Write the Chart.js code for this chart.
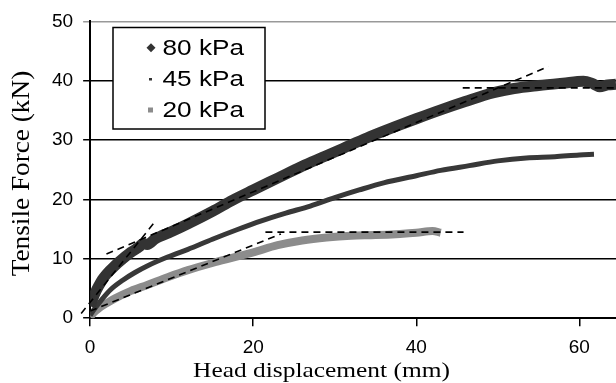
<!DOCTYPE html>
<html>
<head>
<meta charset="utf-8">
<script src="https://cdn.jsdelivr.net/npm/chart.js@4.4.0/dist/chart.umd.min.js"></script>
<style>
  body { margin: 0; background: #fff; }
  #wrap { width: 616px; height: 383px; }
</style>
</head>
<body>
<div id="wrap"><canvas id="chart" width="616" height="383"></canvas></div>
<script>
// --- data (x = head displacement mm, y = tensile force kN) ---
const disp80  = [0, 0.3, 0.7, 1, 1.5, 2, 3, 4, 5, 6, 6.5, 7, 8, 10, 12, 15, 17.5, 20, 23, 26, 28.5, 31, 34, 37.5, 40, 43, 46, 49.5, 52, 55, 58, 60.5, 61.5, 62.5, 63.5, 64.5];
const force80 = [2.0, 3.2, 4.5, 5.3, 6.5, 7.4, 8.8, 10.0, 11.1, 12.0, 12.6, 12.4, 13.4, 14.6, 15.9, 18.0, 19.9, 21.6, 23.6, 25.6, 27.1, 28.6, 30.4, 32.3, 33.6, 35.1, 36.5, 38.0, 38.7, 39.2, 39.6, 39.9, 39.6, 39.0, 39.3, 39.4];

const disp45  = [0, 0.5, 1.4, 2.5, 4, 5.5, 7, 9.5, 12, 15, 18, 21, 24, 27, 30, 33, 36, 40, 43, 46.5, 50, 53.5, 57, 60, 61.8];
const force45 = [0.5, 1.5, 3.1, 4.8, 6.4, 7.7, 8.8, 10.3, 11.6, 13.3, 14.9, 16.4, 17.7, 18.9, 20.3, 21.6, 22.8, 24.0, 24.9, 25.7, 26.5, 27.0, 27.2, 27.5, 27.6];

const disp20  = [0, 0.5, 1, 2, 3, 5, 7, 9.5, 12, 15, 17.5, 20, 23, 26, 29, 32, 35, 38, 40, 42, 43];
const force20 = [0.2, 1.0, 1.6, 2.5, 3.3, 4.6, 5.6, 6.9, 8.1, 9.3, 10.2, 11.1, 12.3, 13.1, 13.6, 13.9, 14.0, 14.2, 14.4, 14.7, 14.4];

// dashed fitting lines: [x0, x1], [y0, y1]
const fit80Init  = { x: [-1.1, 8.1], y: [0.8, 16.5] };
const fit80Main  = { x: [2, 56.2],   y: [10.8, 42.4] };
const fit80Peak  = { x: [45.7, 64.5], y: [38.8, 38.8] };
const fit20Init  = { x: [0, 23.4],   y: [1.2, 14.2] };
const fit20Peak  = { x: [21.5, 45.8], y: [14.5, 14.5] };

const seriesLabels = ['80 kPa', '45 kPa', '20 kPa'];
const yTicks = [0, 10, 20, 30, 40, 50];
const xTicks = [0, 20, 40, 60];

const pts = (xs, ys) => xs.map((x, i) => ({ x, y: ys[i] }));

function dashed(f, clip) {
    return {
        data: pts(f.x, f.y),
        borderColor: '#000', borderWidth: 1.6, borderDash: [7, 5],
        pointRadius: 0, fill: false, clip: clip === false ? false : undefined
    };
}

const datasets = [
    dashed(fit80Init, false),
    dashed(fit80Main),
    dashed(fit80Peak),
    dashed(fit20Init),
    dashed(fit20Peak),
    { data: pts(disp80, force80), borderColor: '#333', borderWidth: 11, pointRadius: 0, cubicInterpolationMode: 'monotone', borderJoinStyle: 'round' },
    { data: pts(disp45, force45), borderColor: '#383838', borderWidth: 5, pointRadius: 0, cubicInterpolationMode: 'monotone', borderJoinStyle: 'round' },
    { data: pts(disp20, force20), borderColor: '#8c8c8c', borderWidth: 8, pointRadius: 0, cubicInterpolationMode: 'monotone', borderJoinStyle: 'round' }
];

// legend box + axis titles drawn by hand (stretched text like the original)
const decor = {
    id: 'decor',
    afterDraw(chart) {
        const ctx = chart.ctx;
        ctx.save();

        // legend
        ctx.fillStyle = '#fff';
        ctx.fillRect(113, 27, 152, 102);
        ctx.strokeStyle = '#000';
        ctx.lineWidth = 1.5;
        ctx.strokeRect(113, 27.5, 152, 101.5);

        const rows = [47.7, 79, 110];
        ctx.font = '22px "Liberation Sans", Arial, sans-serif';
        ctx.textBaseline = 'middle';
        ctx.fillStyle = '#000';
        rows.forEach((y, i) => {
            ctx.save();
            ctx.translate(162.5, y + 1);
            ctx.scale(1.19, 1);
            ctx.fillText(seriesLabels[i], 0, 0);
            ctx.restore();
        });
        // markers
        ctx.fillStyle = '#333';
        ctx.beginPath();
        ctx.moveTo(151, rows[0] - 4.5); ctx.lineTo(155.5, rows[0]);
        ctx.lineTo(151, rows[0] + 4.5); ctx.lineTo(146.5, rows[0]);
        ctx.closePath(); ctx.fill();
        ctx.fillRect(149, rows[1] - 1, 3, 2.5);
        ctx.fillStyle = '#8c8c8c';
        ctx.fillRect(148, rows[2] - 2.5, 5, 5);

        // x title
        ctx.fillStyle = '#000';
        ctx.font = '21px "Liberation Serif", "Times New Roman", serif';
        ctx.textAlign = 'center';
        ctx.textBaseline = 'alphabetic';
        ctx.save();
        ctx.translate(321.5, 376.5);
        ctx.scale(1.21, 1);
        ctx.fillText('Head displacement (mm)', 0, 0);
        ctx.restore();

        // y title
        ctx.font = '25px "Liberation Serif", "Times New Roman", serif';
        ctx.save();
        ctx.translate(28.5, 173.5);
        ctx.rotate(-Math.PI / 2);
        ctx.scale(1.09, 1);
        ctx.fillText('Tensile Force (kN)', 0, 0);
        ctx.restore();

        ctx.restore();
    }
};

const tickFont = { family: '"Liberation Sans", Arial, sans-serif', size: 19 };

new Chart(document.getElementById('chart'), {
    type: 'line',
    data: { datasets },
    plugins: [decor],
    options: {
        responsive: false,
        animation: false,
        layout: { padding: { left: 42, top: 5.5, right: 0, bottom: 14 } },
        plugins: { legend: { display: false }, tooltip: { enabled: false } },
        elements: { line: { fill: false } },
        scales: {
            x: {
                type: 'linear', min: 0, max: 64.5,
                afterBuildTicks: s => { s.ticks = xTicks.map(v => ({ value: v })); },
                ticks: { font: tickFont, color: '#000', padding: 10, maxRotation: 0 },
                grid: { drawOnChartArea: false, drawTicks: true, tickLength: 8, color: '#000', lineWidth: 1.5 },
                border: { color: '#000', width: 2 }
            },
            y: {
                min: 0, max: 50,
                afterBuildTicks: s => { s.ticks = yTicks.map(v => ({ value: v })); },
                ticks: { font: tickFont, color: '#000', padding: 10 },
                grid: {
                    color: c => (c.tick && c.tick.value === 50 ? '#999' : '#000'),
                    lineWidth: 1.5, tickLength: 7
                },
                border: { color: '#000', width: 2 }
            }
        }
    }
});
</script>
</body>
</html>
